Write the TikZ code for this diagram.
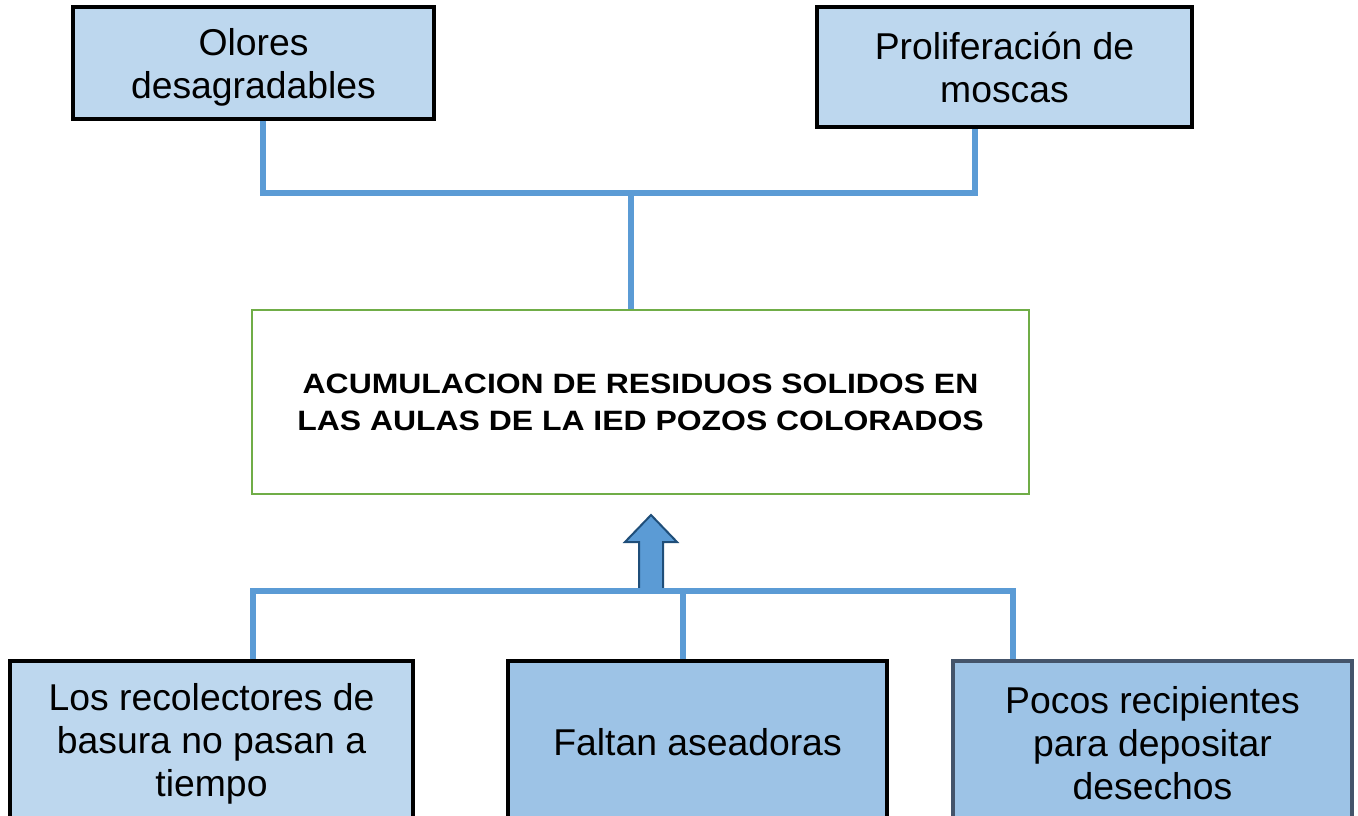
\documentclass[tikz,border=0pt]{standalone}
\usepackage{fontspec}
\setmainfont{Liberation Sans}
\newfontfamily\titlefont{Liberation Sans Bold}[FakeStretch=1.14]
\definecolor{lightfill}{HTML}{BDD7EE}
\definecolor{midfill}{HTML}{9DC3E6}
\definecolor{linkblue}{HTML}{5B9BD5}
\definecolor{greenedge}{HTML}{70AD47}
\definecolor{slateedge}{HTML}{44546A}
\definecolor{arrowedge}{HTML}{1F4E79}
\tikzset{
  boxtext/.style={align=center, font=\fontsize{28}{32.25}\selectfont, inner sep=0pt},
  lightbox/.style={draw=black, line width=2.6pt, fill=lightfill, inner sep=0pt},
  darkbox/.style={draw=black, line width=2.6pt, fill=midfill, inner sep=0pt},
  slatebox/.style={draw=slateedge, line width=2.6pt, fill=midfill, inner sep=0pt},
  mainbox/.style={align=center, font=\titlefont\fontsize{21}{27.75}\selectfont, draw=greenedge, line width=1.5pt, fill=white, inner sep=0pt},
  link/.style={draw=linkblue, line width=4pt},
  blockarrow/.style={fill=linkblue, draw=arrowedge, line width=1.5pt, line join=miter}
}
\begin{document}
\begin{tikzpicture}[x=0.75pt,y=-0.75pt]
\useasboundingbox (0,0) rectangle (1358,816);
\clip (0,0) rectangle (1358,816);
% top effect boxes
\node[lightbox, minimum width=270.75pt, minimum height=84pt] (olores) at (253.5,63) {};
\node[boxtext] (oloresText) at ([yshift=-3pt]olores.center) {Olores\\desagradables};
\node[lightbox, minimum width=281.25pt, minimum height=90pt] (moscas) at (1004.5,67) {};
\node[boxtext] (moscasText) at (moscas.center) {Proliferación de\\moscas};
% central problem
\node[mainbox, minimum width=582.75pt, minimum height=138pt] (problema) at (640.5,402) {ACUMULACION DE RESIDUOS SOLIDOS EN\\LAS AULAS DE LA IED POZOS COLORADOS};
% bottom cause boxes
\node[lightbox, minimum width=302.25pt, minimum height=118.5pt] (recolectores) at (211.5,740) {};
\node[boxtext] (recolectoresText) at ([yshift=-2.6pt]recolectores.center) {Los recolectores de\\basura no pasan a\\tiempo};
\node[darkbox, minimum width=284.25pt, minimum height=122.25pt] (aseadoras) at (697.5,742.5) {};
\node[boxtext] (aseadorasText) at (aseadoras.center) {Faltan aseadoras};
\node[slatebox, minimum width=299.25pt, minimum height=120pt] (recipientes) at (1152.5,741) {};
\node[boxtext] (recipientesText) at ([yshift=-1.5pt]recipientes.center) {Pocos recipientes\\para depositar\\desechos};
% top connectors
\coordinate (tl) at (263,193);
\coordinate (tr) at (975,193);
\coordinate (tm) at (631,193);
\draw[link] (olores.south -| tl) -- (tl) -- (tr) -- (moscas.south -| tr);
\draw[link] (tm) -- (problema.north -| tm);
% block arrow
\coordinate (abase) at (651,591);
\draw[blockarrow] (abase) ++(-12,0) -- ++(0,-49) -- ++(-14,0) -- (651,515) -- (677,542) -- ++(-14,0) -- ++(0,49) -- cycle;
% bottom connectors
\coordinate (bl) at (253,591);
\coordinate (br) at (1013,591);
\coordinate (bm) at (683,591);
\draw[link] (recolectores.north -| bl) -- (bl) -- (br) -- (recipientes.north -| br);
\draw[link] (bm) -- (aseadoras.north -| bm);
\end{tikzpicture}
\end{document}
